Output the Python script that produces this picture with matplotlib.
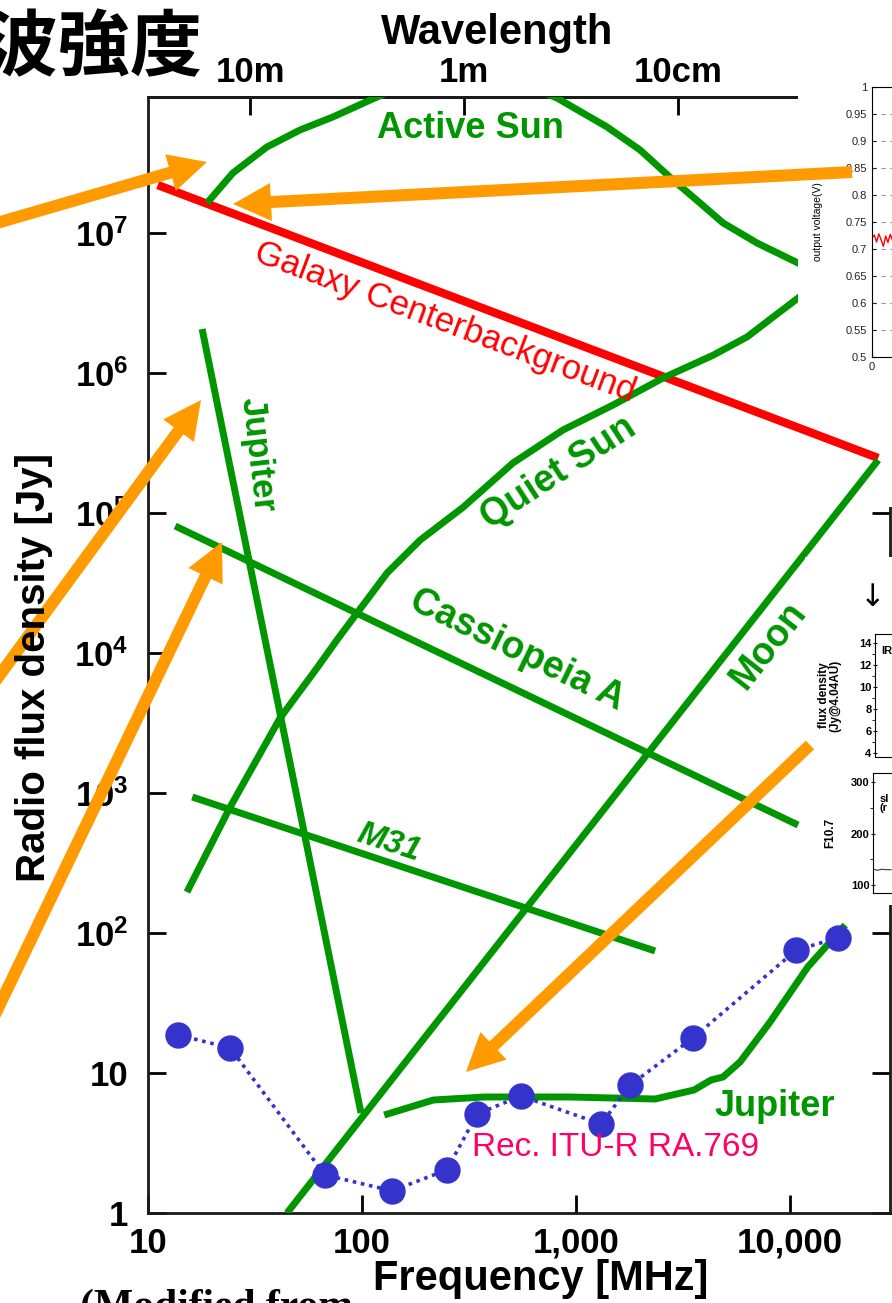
import matplotlib
matplotlib.use("Agg")
import matplotlib.pyplot as plt
from matplotlib.ticker import NullLocator

plt.rcParams['font.family'] = ['Liberation Sans', 'Noto Sans CJK JP', 'DejaVu Sans']
plt.rcParams['mathtext.fontset'] = 'custom'
plt.rcParams['mathtext.rm'] = 'Liberation Sans'
plt.rcParams['mathtext.bf'] = 'Liberation Sans:bold'

# ---- data (frequency in MHz, flux density in Jy) ----
galaxy_f = [11.1, 25800]
galaxy_s = [2.2e7, 2.47e5]

active_sun_f = [18.9, 24.9, 35.9, 51.3, 73.1, 112, 303, 815, 1395, 1990, 2840, 3790, 4860, 7010, 10900, 15400]
active_sun_s = [1.64e7, 2.68e7, 4.11e7, 5.44e7, 6.74e7, 9.06e7, 1.72e8, 9.2e7, 5.72e7, 3.92e7,
                2.39e7, 1.64e7, 1.18e7, 8.48e6, 6.1e6, 5.0e6]

quiet_sun_f = [15.2, 24.2, 41.4, 61.6, 76.4, 94.8, 131, 187, 297, 508, 870, 1490, 2550, 4370, 6300, 8330, 10900, 15400]
quiet_sun_s = [196, 794, 3430, 7810, 1.24e4, 1.93e4, 3.73e4, 6.41e4, 1.10e5, 2.28e5, 3.92e5, 5.91e5,
               9.21e5, 1.34e6, 1.81e6, 2.51e6, 3.43e6, 5.0e6]

jupiter_burst_f = [17.9, 98.9]
jupiter_burst_s = [2.06e6, 5.18]

jupiter_f = [127, 215, 372, 927, 2340, 3560, 4270, 4860, 5840, 8060, 12100, 18100]
jupiter_s = [5.01, 6.41, 6.74, 6.74, 6.52, 7.56, 8.91, 9.36, 12.0, 23.1, 57.2, 114]

cas_a_f = [13.4, 10900]
cas_a_s = [8.07e4, 590]

m31_f = [16.1, 2340]
m31_s = [936, 74.4]

moon_f = [44.6, 25800]
moon_s = [1.0, 2.39e5]

ra769_f = [13.8, 24.2, 67.1, 138, 249, 345, 553, 1310, 1790, 3520, 10700, 16700]
ra769_s = [18.7, 15.1, 1.87, 1.44, 2.03, 5.1, 6.85, 4.32, 8.2, 17.8, 75.6, 92.1]

x_ticks = [10, 100, 1000, 10000]
x_labels = ['10', '100', '1,000', '10,000']
y_ticks = [1, 10, 1e2, 1e3, 1e4, 1e5, 1e6, 1e7]
y_labels = ['1', '10', r'$\mathbf{10^{2}}$', r'$\mathbf{10^{3}}$', r'$\mathbf{10^{4}}$',
            r'$\mathbf{10^{5}}$', r'$\mathbf{10^{6}}$', r'$\mathbf{10^{7}}$']
wl_ticks = [30, 300, 3000]
wl_labels = ['10m', '1m', '10cm']

# small pasted panels on the right
volt_ticks = [0.5, 0.55, 0.6, 0.65, 0.7, 0.75, 0.8, 0.85, 0.9, 0.95, 1.0]
volt_labels = ['0.5', '0.55', '0.6', '0.65', '0.7', '0.75', '0.8', '0.85', '0.9', '0.95', '1']
volt_t = [0, 1, 2, 3, 4, 5, 6, 7, 8, 9, 10, 11]
volt_v = [0.72, 0.726, 0.713, 0.728, 0.717, 0.705, 0.724, 0.712, 0.727, 0.716, 0.722, 0.71]
ir_ticks = [4, 6, 8, 10, 12, 14]
f107_ticks = [100, 200, 300]
f107_t = [0, 2, 4, 6, 8]
f107_v = [131, 129, 131, 130, 130]

GREEN = '#009600'
RED = '#ff0000'
BLUE = '#3434cc'
ORANGE = '#ff9a00'
PINK = '#ff0066'

W, H = 892, 1303
fig = plt.figure(figsize=(W / 100, H / 100), dpi=100)


def rect(x0, y0, x1, y1):
    # pixel box (origin top-left) -> figure fraction
    return [x0 / W, 1 - y1 / H, (x1 - x0) / W, (y1 - y0) / H]


# ---- main chart ----
ax = fig.add_axes(rect(148, 97, 890, 1213), zorder=1)
ax.set_xscale('log')
ax.set_yscale('log')
ax.set_xlim(10, 29300)
ax.set_ylim(1, 9.36e7)

lw = 5
ax.plot(galaxy_f, galaxy_s, color=RED, lw=6, solid_capstyle='butt')
for f, s in [(active_sun_f, active_sun_s), (quiet_sun_f, quiet_sun_s), (jupiter_burst_f, jupiter_burst_s),
             (jupiter_f, jupiter_s), (cas_a_f, cas_a_s), (m31_f, m31_s), (moon_f, moon_s)]:
    ax.plot(f, s, color=GREEN, lw=lw, solid_capstyle='butt', zorder=3)
ax.plot(ra769_f, ra769_s, ls=(0, (1, 1.3)), lw=2.6, color=BLUE, marker='o', ms=18,
        mfc=BLUE, mec=BLUE, zorder=4)

ax.set_xticks(x_ticks, labels=x_labels)
ax.set_yticks(y_ticks, labels=y_labels)
ax.xaxis.set_minor_locator(NullLocator())
ax.yaxis.set_minor_locator(NullLocator())
ax.tick_params(which='major', direction='in', length=13, width=2, right=True, labelsize=25)
ax.tick_params(axis='x', pad=10)
ax.tick_params(axis='y', pad=14)
for lbl in ax.get_xticklabels() + ax.get_yticklabels():
    lbl.set_fontweight('bold')
for sp in ax.spines.values():
    sp.set_linewidth(2)
    sp.set_color('#1a1a1a')

top = ax.secondary_xaxis('top')
top.set_xticks(wl_ticks, labels=wl_labels)
top.xaxis.set_minor_locator(NullLocator())
top.tick_params(direction='in', length=13, width=2, labelsize=25, pad=6)
for lbl in top.get_xticklabels():
    lbl.set_fontweight('bold')
top.spines['top'].set_linewidth(2)

# ---- white panels holding the pasted plots ----
for box in [(798, 55, 892, 382), (883, 380, 892, 507), (805, 557, 892, 905)]:
    p = fig.add_axes(rect(*box), zorder=5)
    p.set_xticks([])
    p.set_yticks([])
    for sp in p.spines.values():
        sp.set_visible(False)
    p.set_facecolor('white')

ins1 = fig.add_axes(rect(872, 87, 1100, 357), zorder=6)
ins1.set_xlim(0, 100)
ins1.set_ylim(0.5, 1.0)
ins1.plot(volt_t, volt_v, color='red', lw=1)
ins1.set_yticks(volt_ticks, labels=volt_labels)
ins1.set_xticks([0], labels=['0'])
ins1.grid(axis='y', ls=(0, (4, 4)), color='#999999', lw=0.8)
ins1.tick_params(labelsize=8, direction='in', length=3, colors='#222222')
ins1.set_ylabel('output voltage(V)', fontsize=7.5)
ins1.yaxis.set_label_coords(-0.215, 0.5)

ins2 = fig.add_axes(rect(875, 634, 1100, 757), zorder=6)
ins2.set_xlim(0, 100)
ins2.set_ylim(3.6, 14.8)
ins2.set_yticks(ir_ticks)
ins2.set_yticks([5, 7, 9, 11, 13], minor=True)
ins2.set_xticks([])
ins2.tick_params(labelsize=8, length=3, direction='inout', pad=1)
for lbl in ins2.get_yticklabels():
    lbl.set_fontweight('bold')
ins2.set_ylabel('flux density\n(Jy@4.04AU)', fontsize=8.5, fontweight='bold', linespacing=0.9)
ins2.yaxis.set_label_coords(-0.15, 0.5)
ins2.text(0.03, 0.84, 'IR', transform=ins2.transAxes, fontsize=8, fontweight='bold')

ins3 = fig.add_axes(rect(873, 773, 1100, 893), zorder=6)
ins3.set_xlim(0, 100)
ins3.set_ylim(85, 317)
ins3.plot(f107_t, f107_v, color='#333333', lw=0.8)
ins3.set_yticks(f107_ticks)
ins3.set_yticks([150, 250], minor=True)
ins3.set_xticks([])
ins3.tick_params(labelsize=8, length=3, direction='inout', pad=1)
for lbl in ins3.get_yticklabels():
    lbl.set_fontweight('bold')
ins3.set_ylabel('F10.7', fontsize=8.5, fontweight='bold')
ins3.yaxis.set_label_coords(-0.16, 0.5)
ins3.text(0.03, 0.68, 'sl\n(r', transform=ins3.transAxes, fontsize=8, fontweight='bold', linespacing=0.9)

# ---- overlay in pixel coordinates: titles, labels, arrows ----
ov = fig.add_axes([0, 0, 1, 1], zorder=10)
ov.set_xlim(0, W)
ov.set_ylim(H, 0)
ov.axis('off')

ov.text(203, 70, '電波強度', ha='right', va='baseline', fontsize=52, fontweight='bold',
        family=['Noto Sans CJK JP', 'DejaVu Sans'])
ov.text(497, 44, 'Wavelength', ha='center', va='baseline', fontsize=30, fontweight='bold')
ov.text(541, 1290, 'Frequency [MHz]', ha='center', va='baseline', fontsize=30, fontweight='bold')
ov.text(45, 667, 'Radio flux density [Jy]', ha='center', va='baseline', rotation=90,
        rotation_mode='anchor', fontsize=29, fontweight='bold')
ov.text(80, 1318, '(Modified from', ha='left', va='baseline', fontsize=30, fontweight='bold',
        family=['Liberation Serif', 'DejaVu Serif'])
ov.text(873, 598, '↓', ha='center', va='center', fontsize=22, family=['DejaVu Sans'])

labels = [
    ('Active Sun', 470, 128, 0, GREEN, 26, 'bold', 'normal'),
    ('Galaxy Centerbackground', 445, 322, -20.5, RED, 25, 'normal', 'normal'),
    ('Jupiter', 257, 455, -83.5, GREEN, 25, 'bold', 'normal'),
    ('Quiet Sun', 558, 473, 33, GREEN, 27, 'bold', 'normal'),
    ('Cassiopeia A', 517, 650, -26, GREEN, 27, 'bold', 'normal'),
    ('Moon', 768, 645, 52, GREEN, 27, 'bold', 'normal'),
    ('M31', 389, 843, -18, GREEN, 24, 'bold', 'italic'),
    ('Jupiter', 775, 1107, 0, GREEN, 26, 'bold', 'normal'),
]
for txt, x, y, rot, c, fs, fw, st in labels:
    ov.text(x, y, txt, ha='center', va='center', rotation=rot, rotation_mode='anchor',
            color=c, fontsize=fs, fontweight=fw, style=st)
ov.text(616, 1147, 'Rec. ITU-R RA.769', ha='center', va='center', color=PINK, fontsize=24)

arrows = [
    ((-10, 225), (207, 162)),
    ((852, 172), (233, 204)),
    ((-20, 702), (201, 400)),
    ((-10, 1025), (222, 542)),
    ((810, 745), (466, 1072)),
]
for (x0, y0), (x1, y1) in arrows:
    ov.arrow(x0, y0, x1 - x0, y1 - y0, width=12, head_width=38, head_length=38,
             length_includes_head=True, color=ORANGE, lw=0)

fig.savefig('out.png', dpi=100)
